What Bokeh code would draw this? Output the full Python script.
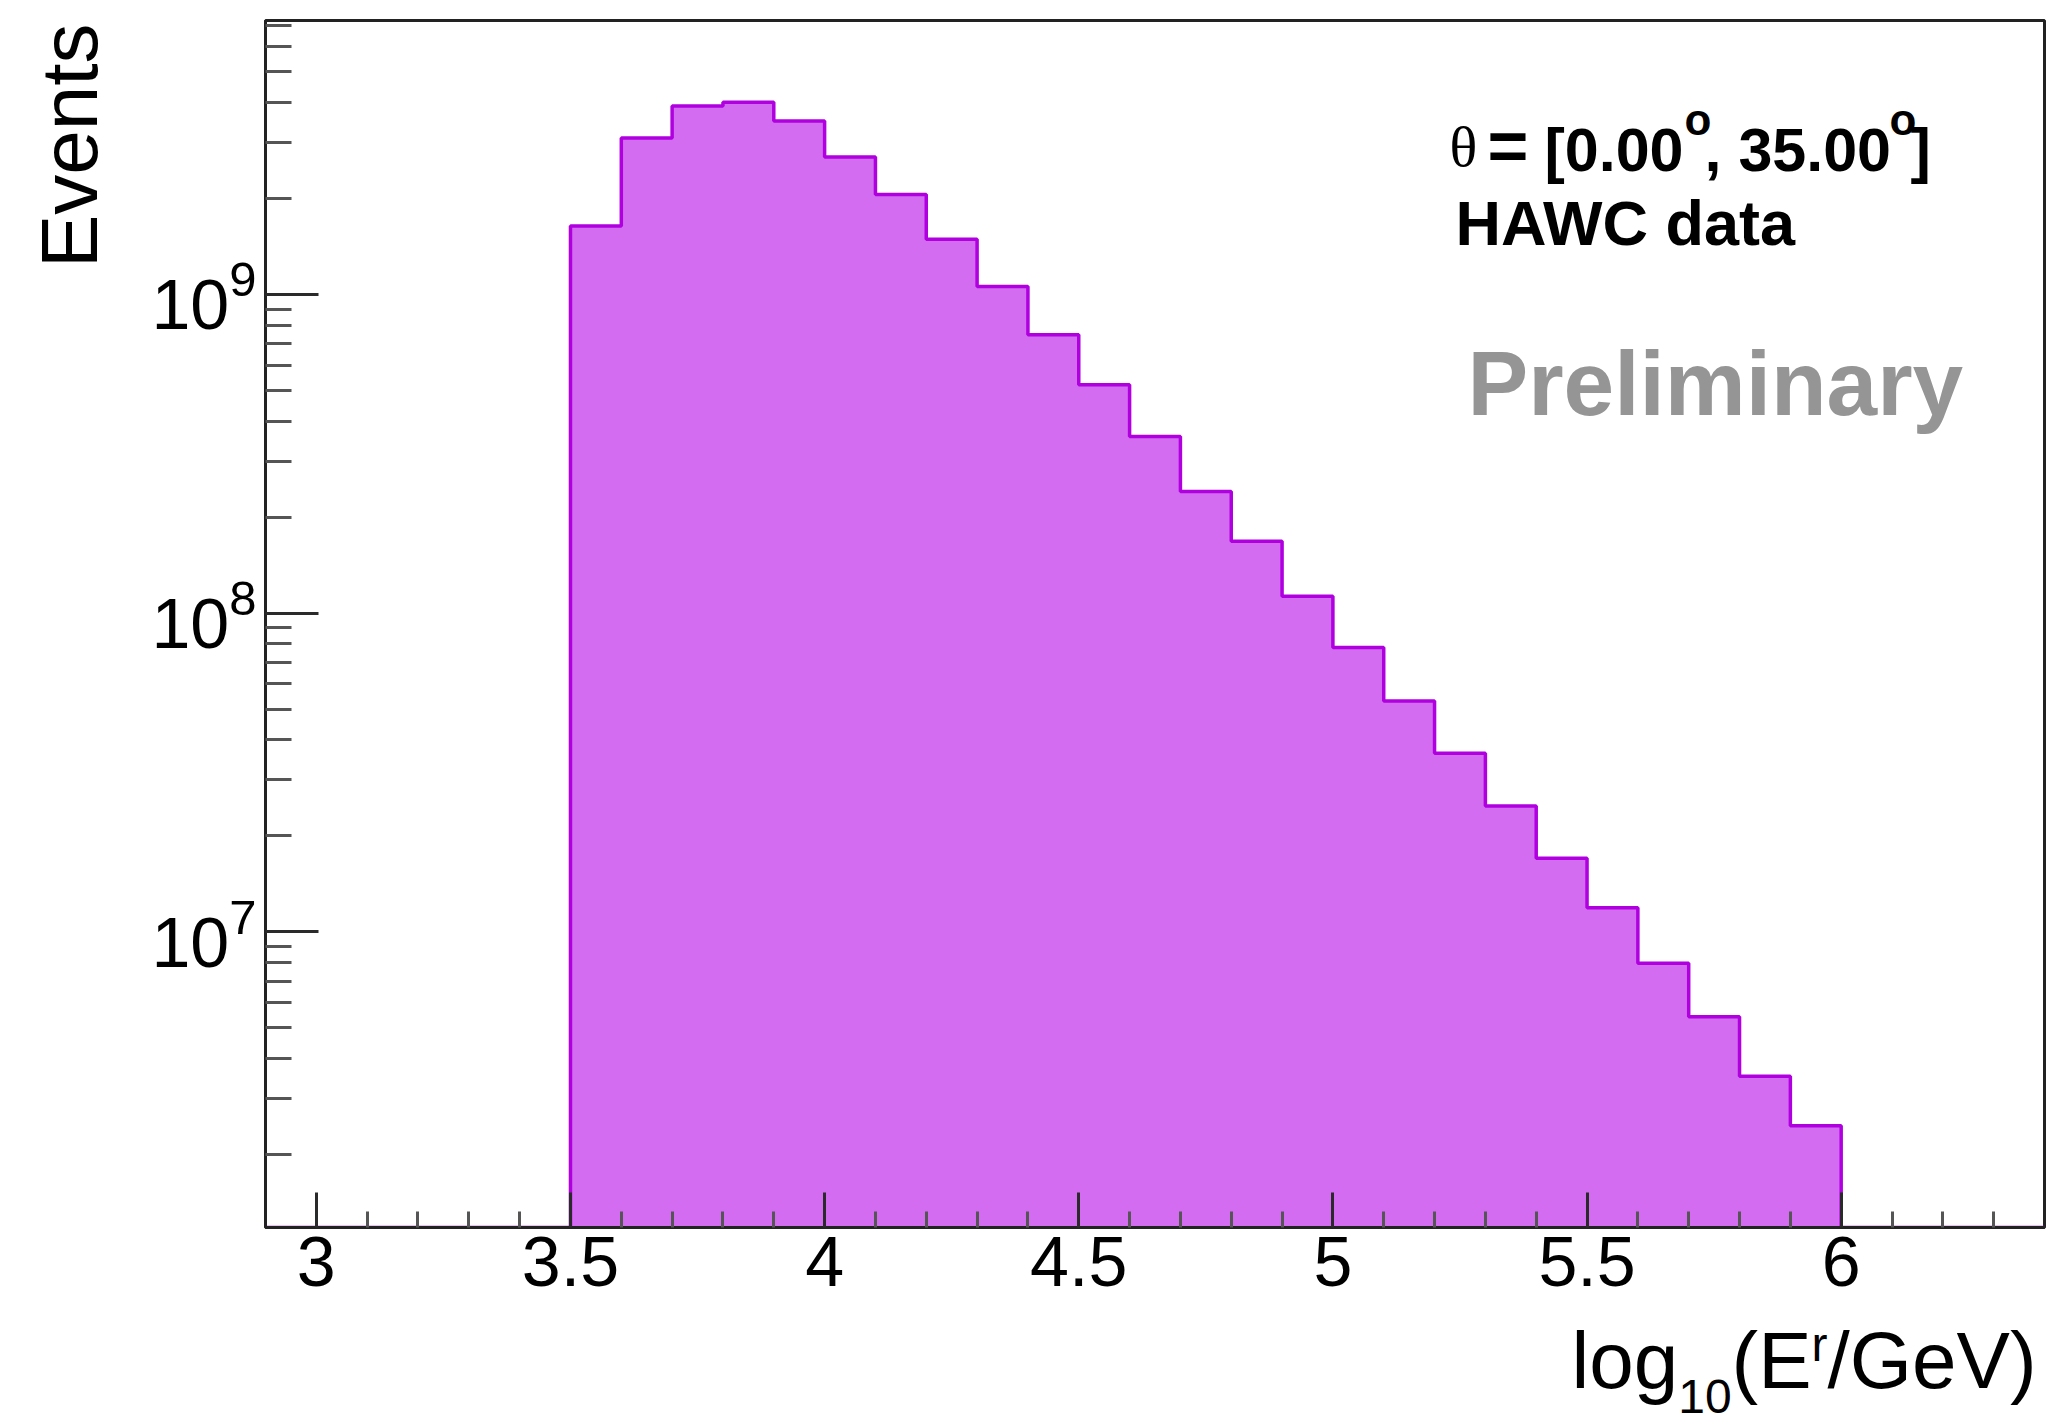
import math
from bokeh.plotting import figure
from bokeh.layouts import row, column
from bokeh.models import Range1d, FixedTicker, LogTickFormatter, NumeralTickFormatter, Label
from bokeh.embed import file_html
from bokeh.resources import INLINE

# ---------------- data ----------------
bin_lo = [3.5, 3.6, 3.7, 3.8, 3.9, 4.0, 4.1, 4.2, 4.3, 4.4, 4.5, 4.6, 4.7,
          4.8, 4.9, 5.0, 5.1, 5.2, 5.3, 5.4, 5.5, 5.6, 5.7, 5.8, 5.9]
bin_hi = [3.6, 3.7, 3.8, 3.9, 4.0, 4.1, 4.2, 4.3, 4.4, 4.5, 4.6, 4.7, 4.8,
          4.9, 5.0, 5.1, 5.2, 5.3, 5.4, 5.5, 5.6, 5.7, 5.8, 5.9, 6.0]
events = [1.64e9, 3.10e9, 3.90e9, 4.01e9, 3.50e9, 2.70e9, 2.06e9, 1.49e9,
          1.06e9, 7.48e8, 5.21e8, 3.58e8, 2.41e8, 1.68e8, 1.13e8, 7.80e7,
          5.30e7, 3.63e7, 2.48e7, 1.70e7, 1.19e7, 7.96e6, 5.41e6, 3.52e6,
          2.46e6]

x_major = [3.0, 3.5, 4.0, 4.5, 5.0, 5.5, 6.0]
x_minor = [3.1, 3.2, 3.3, 3.4, 3.6, 3.7, 3.8, 3.9, 4.1, 4.2, 4.3, 4.4,
           4.6, 4.7, 4.8, 4.9, 5.1, 5.2, 5.3, 5.4, 5.6, 5.7, 5.8, 5.9,
           6.1, 6.2, 6.3]
y_major = [1e7, 1e8, 1e9]
y_minor = [m * d for d in (1e6, 1e7, 1e8, 1e9) for m in (2, 3, 4, 5, 6, 7, 8, 9)]

X_START, X_END = 2.9, 6.4
Y_MIN, Y_MAX = 1.18e6, 7.24e9

FILL = "#d36cf0"
EDGE = "#b000e0"
FONT = "Liberation Sans"

# ---------------- geometry (page pixels, page origin = figure origin) ----
TOTAL_W, TOTAL_H = 2050, 1424
FR_L, FR_R, FR_T, FR_B = 265, 2044, 20, 1227   # plot frame on the page
WL = 130                     # left strip holding the y title
WM = TOTAL_W - WL            # main figure width
HM = 1314                    # main figure height
HX = TOTAL_H - HM            # bottom strip holding the x title
ML, MR, MT = FR_L - WL, TOTAL_W - FR_R, FR_T
MB = HM - FR_B


def no_align(f):
    try:
        f.frame_align = False
    except Exception:
        pass


# ---------------- main figure ----------------
p = figure(width=WM, height=HM, x_range=Range1d(X_START, X_END),
           y_range=Range1d(Y_MIN, Y_MAX), y_axis_type="log",
           output_backend="svg", toolbar_location=None,
           min_border_left=ML, min_border_right=MR,
           min_border_top=MT, min_border_bottom=MB)
no_align(p)
p.grid.visible = False
p.background_fill_color = "white"
p.border_fill_color = "white"
p.outline_line_color = "#222222"
p.outline_line_width = 3

p.varea_step(x=bin_lo + [bin_hi[-1]], y1=[Y_MIN] * (len(events) + 1),
             y2=events + [events[-1]], step_mode="after", fill_color=FILL)

ox = [X_START, bin_lo[0]]
oy = [Y_MIN, Y_MIN]
for lo, hi, v in zip(bin_lo, bin_hi, events):
    ox += [lo, hi]
    oy += [v, v]
ox += [bin_hi[-1], X_END]
oy += [Y_MIN, Y_MIN]
p.line(ox, oy, line_color=EDGE, line_width=3.5)

xa = p.xaxis[0]
ya = p.yaxis[0]
xa.ticker = FixedTicker(ticks=x_major, minor_ticks=x_minor)
xa.formatter = NumeralTickFormatter(format="0.[0]")
ya.ticker = FixedTicker(ticks=y_major, minor_ticks=y_minor)
ya.formatter = LogTickFormatter()
for ax in (xa, ya):
    ax.axis_line_color = "#222222"
    ax.axis_line_width = 3
    ax.major_tick_out = 0
    ax.minor_tick_out = 0
    ax.major_tick_line_color = "#2a2a2a"
    ax.major_tick_line_width = 3
    ax.minor_tick_line_color = "#555555"
    ax.minor_tick_line_width = 3
    ax.major_label_text_font = FONT
    ax.major_label_text_font_size = "70px"
    ax.major_label_text_color = "black"
xa.major_tick_in = 35
xa.minor_tick_in = 16
xa.major_label_standoff = 9
ya.major_tick_in = 53
ya.minor_tick_in = 26
ya.major_label_standoff = 9

REG = {"l": .222, "o": .556, "g": .556, "1": .556, "0": .556, "(": .333,
       "E": .667, "r": .333, "/": .278, "G": .778, "e": .556, "V": .667, ")": .333}
MID = 0.35   # distance (em) from the vertical middle of a text box to its baseline


def tw(s, size, table):
    return sum(table[c] for c in s) * size


def lab(fig, fx, fy, text, px, base_y, size, bold=False, color="black",
        font=FONT, **kw):
    """text starting at page x `px` with its baseline at page y `base_y`;
    (fx, fy) = page position of the bottom-left corner of fig's frame"""
    fig.add_layout(Label(x=px - fx, y=fy - (base_y - MID * size),
                         x_units="screen", y_units="screen", text=text,
                         text_font=font, text_font_size=f"{size}px",
                         text_font_style="bold" if bold else "normal",
                         text_color=color, text_baseline="middle", **kw))


# in-frame annotations
lab(p, FR_L, FR_B, "\u03b8", 1449, 166, 58, font="Liberation Serif")
lab(p, FR_L, FR_B, "=", 1487, 170, 70, bold=True)
lab(p, FR_L, FR_B, "[0.00", 1544, 171, 61, bold=True)
lab(p, FR_L, FR_B, "o", 1684, 134, 44, bold=True)
lab(p, FR_L, FR_B, ", 35.00", 1704, 171, 61, bold=True)
lab(p, FR_L, FR_B, "o", 1889, 134, 44, bold=True)
lab(p, FR_L, FR_B, "]", 1910, 171, 61, bold=True)
lab(p, FR_L, FR_B, "HAWC data", 1455, 245, 63, bold=True)
lab(p, FR_L, FR_B, "Preliminary", 1467, 415, 91, bold=True, color="#959595")


def strip(w, h, **borders):
    f = figure(width=w, height=h, x_range=Range1d(0, 1), y_range=Range1d(0, 1),
               output_backend="svg", toolbar_location=None,
               x_axis_location=None, y_axis_location=None, **borders)
    no_align(f)
    f.grid.visible = False
    f.outline_line_color = None
    f.background_fill_color = "white"
    f.border_fill_color = "white"
    return f


# y title strip: frame spans the same rows as the main frame
yl = strip(WL, TOTAL_H, min_border_left=0, min_border_right=0,
           min_border_top=FR_T, min_border_bottom=TOTAL_H - FR_B)
EV_SIZE = 80
# rotated text: baseline lies MID em to the right of the anchor
yl.add_layout(Label(x=97 - MID * EV_SIZE, y=FR_B - 23, x_units="screen",
                    y_units="screen", text="Events", text_font=FONT,
                    text_font_size=f"{EV_SIZE}px", text_color="black",
                    angle=math.pi / 2, text_align="right", text_baseline="middle"))

# x title strip: frame spans the same columns as the main frame
xl = strip(WM, HX, min_border_left=ML, min_border_right=MR,
           min_border_top=0, min_border_bottom=0)
XB = TOTAL_H
xs = 1571
lab(xl, FR_L, XB, "log", xs, 1388, 80)
xs += tw("log", 80, REG)
lab(xl, FR_L, XB, "10", xs, 1413, 48)
xs += tw("10", 48, REG)
lab(xl, FR_L, XB, "(E", xs, 1388, 80)
xs += tw("(E", 80, REG)
lab(xl, FR_L, XB, "r", xs, 1361, 48)
xs += tw("r", 48, REG)
lab(xl, FR_L, XB, "/GeV)", xs, 1388, 80)

layout = row(yl, column(p, xl, spacing=0), spacing=0)
open("out.html", "w").write(file_html(layout, INLINE))
